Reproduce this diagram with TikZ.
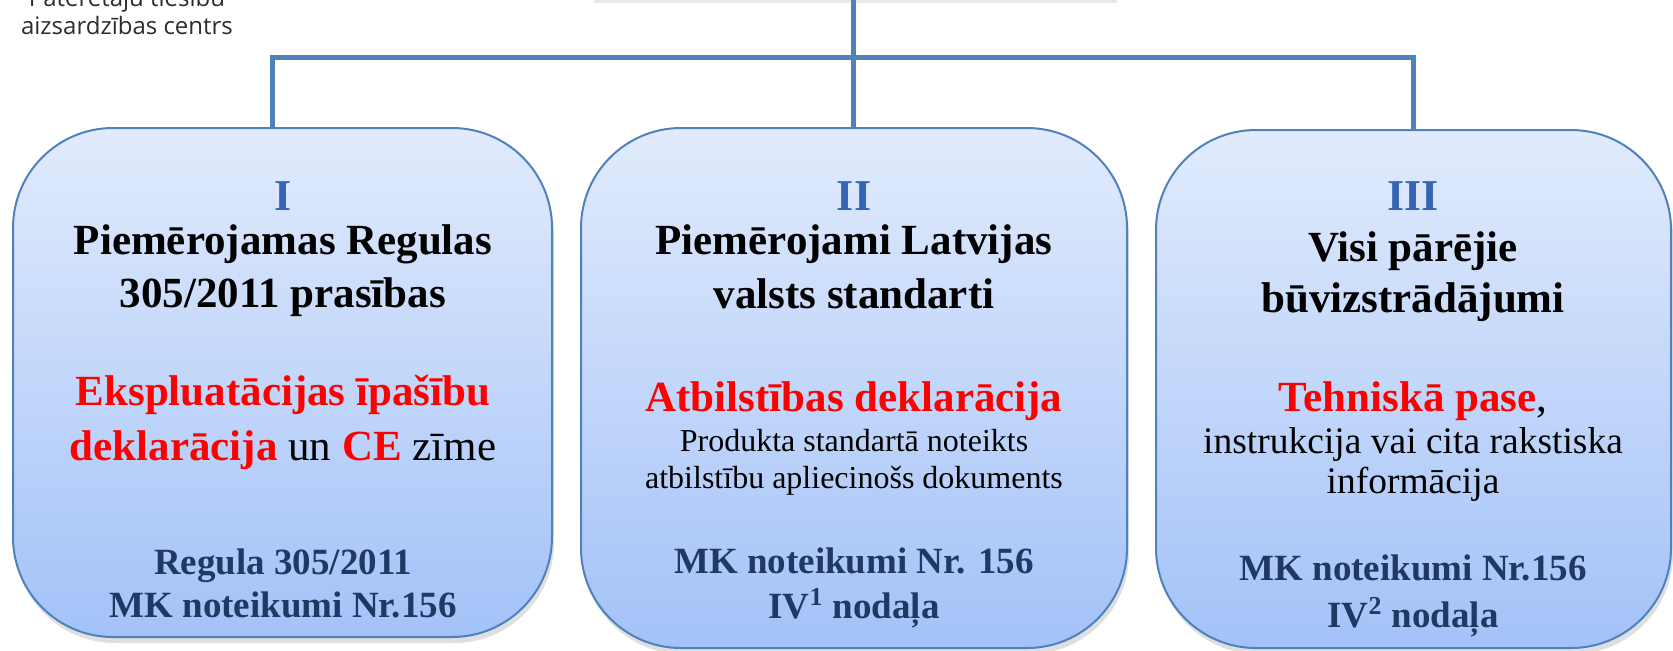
\documentclass[tikz,border=0pt]{standalone}
\usepackage{fontspec}
\setmainfont{Liberation Serif}
\newfontfamily\logofont{Open Sans}
\usetikzlibrary{shadows}

\definecolor{linkblue}{RGB}{79,129,189}
\definecolor{boxtop}{RGB}{225,235,252}
\definecolor{boxbottom}{RGB}{163,194,248}
\definecolor{lawnavy}{RGB}{31,56,100}
\definecolor{numblue}{RGB}{52,100,180}
\definecolor{logogray}{RGB}{45,45,45}

\begin{document}
\begin{tikzpicture}[x=0.5pt,y=-0.5pt,
    group/.style={draw=linkblue, line width=1pt, rounded corners=50pt,
        top color=boxtop, bottom color=boxbottom, inner sep=0pt,
        drop shadow={opacity=0.25, shadow xshift=1pt, shadow yshift=-3pt}},
    link/.style={draw=linkblue, line width=2.5pt},
    numeral/.style={anchor=base, inner sep=0pt, text=numblue,
        font=\fontsize{22}{26}\selectfont\bfseries},
    head/.style={anchor=base, inner sep=0pt,
        font=\fontsize{21.5}{26}\selectfont\bfseries},
    doc/.style={anchor=base, inner sep=0pt, text=red,
        font=\fontsize{21.5}{26}\selectfont\bfseries},
    note/.style={anchor=base, inner sep=0pt,
        font=\fontsize{16}{19}\selectfont},
    info/.style={anchor=base, inner sep=0pt,
        font=\fontsize{18.75}{22}\selectfont},
    law/.style={anchor=base, inner sep=0pt, text=lawnavy,
        font=\fontsize{18.5}{22}\selectfont\bfseries},
    logo/.style={anchor=base, inner sep=0pt, text=logogray,
        font=\logofont\fontsize{12}{14}\selectfont}]

    \useasboundingbox[fill=white] (0,0) rectangle (1673,650);

    \node[logo] (logotop) at (127,6) {Patērētāju tiesību};
    \node[logo] (logobottom) at (127,34) {aizsardzības centrs};

    \node[draw=linkblue, line width=1pt, fill=white, minimum width=261.5pt,
        minimum height=50pt,
        drop shadow={opacity=0.18, shadow xshift=1pt, shadow yshift=-2pt}]
        (topbox) at (853.5,-51) {};

    \coordinate (jleft) at (272,57);
    \coordinate (jright) at (1413,57);

    \node[minimum width=269.5pt, minimum height=254.5pt] (regbox) at (282.5,382.5) {};
    \node[minimum width=273pt, minimum height=260pt] (stdbox) at (854,388) {};
    \node[minimum width=257.5pt, minimum height=259pt] (otherbox) at (1413.5,389) {};

    \draw[link] (topbox.south) -- (topbox.south |- stdbox.north);
    \draw[link] (jleft |- regbox.north) -- (jleft) -- (jright) -- (jright |- otherbox.north);

    \node[group, minimum width=269.5pt, minimum height=254.5pt] at (regbox) {};
    \node[group, minimum width=273pt, minimum height=260pt] at (stdbox) {};
    \node[group, minimum width=257.5pt, minimum height=259pt] at (otherbox) {};

    \node[numeral] (regnum) at (283,210) {I};
    \node[head] (reghead1) at (283,254) {Piemērojamas Regulas};
    \node[head] (reghead2) at (283,307) {305/2011 prasības};
    \node[doc] (regdoc1) at (283,405) {Ekspluatācijas īpašību};
    \node[doc] (regdoc2) at (283,460)
        {deklarācija \textcolor{black}{\mdseries un} CE \textcolor{black}{\mdseries zīme}};
    \node[law] (reglaw1) at (283,574) {Regula 305/2011};
    \node[law] (reglaw2) at (283,617) {MK noteikumi Nr.156};

    \node[numeral] (stdnum) at (854,210) {II};
    \node[head] (stdhead1) at (854,254) {Piemērojami Latvijas};
    \node[head] (stdhead2) at (854,308) {valsts standarti};
    \node[doc] (stddoc) at (854,411) {Atbilstības deklarācija};
    \node[note] (stdnote1) at (854,451) {Produkta standartā noteikts};
    \node[note] (stdnote2) at (854,488) {atbilstību apliecinošs dokuments};
    \node[law] (stdlaw1) at (854,573) {MK noteikumi Nr. 156};
    \node[law] (stdlaw2) at (854,618) {IV\textsuperscript{1} nodaļa};

    \node[numeral] (othernum) at (1413,210) {III};
    \node[head] (otherhead1) at (1413,261) {Visi pārējie};
    \node[head] (otherhead2) at (1413,312) {būvizstrādājumi};
    \node[doc] (otherdoc) at (1413,411) {Tehniskā pase\textcolor{black}{\mdseries,}};
    \node[info] (otherinfo1) at (1413,453) {instrukcija vai cita rakstiska};
    \node[info] (otherinfo2) at (1413,493) {informācija};
    \node[law] (otherlaw1) at (1413,580) {MK noteikumi Nr.156};
    \node[law] (otherlaw2) at (1413,627) {IV\textsuperscript{2} nodaļa};
\end{tikzpicture}
\end{document}
